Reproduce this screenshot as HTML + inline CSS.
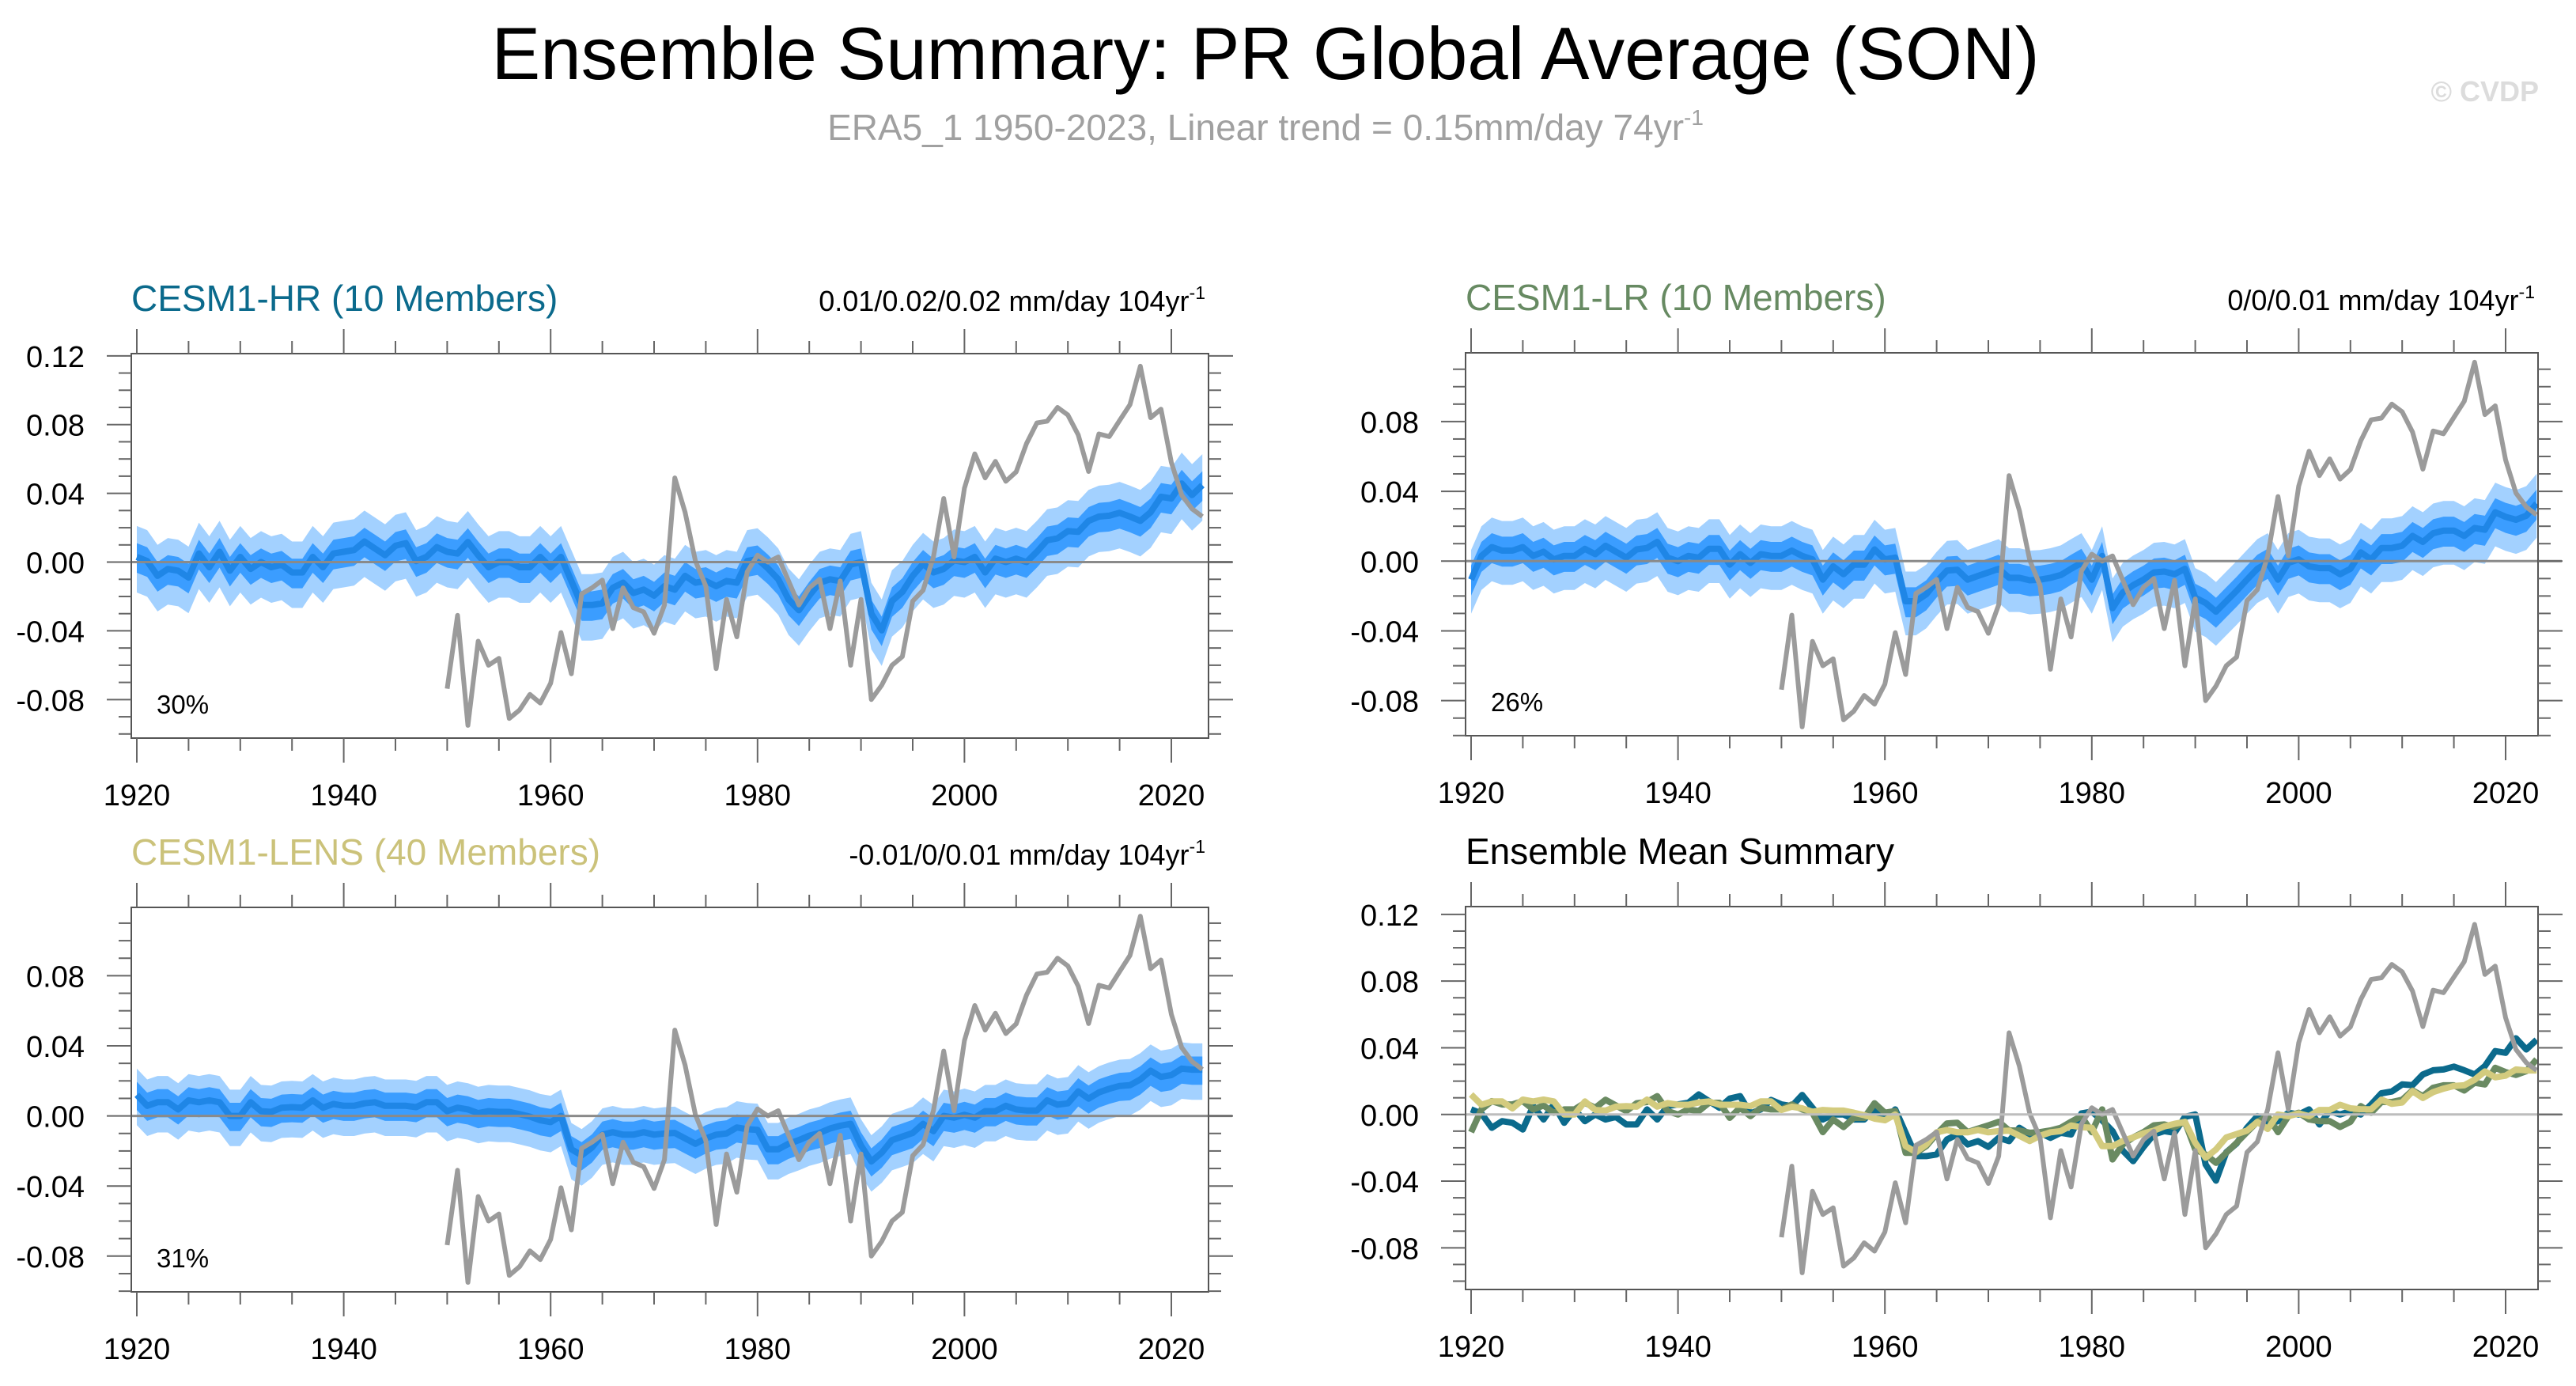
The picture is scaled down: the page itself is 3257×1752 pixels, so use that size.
<!DOCTYPE html>
<html><head><meta charset="utf-8"><title>Ensemble Summary: PR Global Average (SON)</title>
<style>html,body{margin:0;padding:0;background:#fff}svg{display:block}</style></head>
<body>
<svg id="chart" xmlns="http://www.w3.org/2000/svg" width="3257" height="1752" viewBox="0 0 3257 1752" font-family="Liberation Sans, Arial, sans-serif">
<rect width="3257" height="1752" fill="#fff"/>
<text x="1600" y="100" font-size="94" text-anchor="middle" textLength="1957" lengthAdjust="spacingAndGlyphs" fill="#000">Ensemble Summary: PR Global Average (SON)</text>
<text x="1600" y="177" font-size="46" text-anchor="middle" fill="#a0a0a0">ERA5_1 1950-2023, Linear trend = 0.15mm/day 74yr<tspan dy="-19" font-size="28">-1</tspan></text>
<text x="3210" y="128" font-size="36" text-anchor="end" fill="#dcdcdc" font-weight="bold">© CVDP</text>
<g id="panels"></g>
</svg>
<script>
const years = []; for (let y = 1920; y <= 2023; y++) years.push(y);
const eraYears = []; for (let y = 1950; y <= 2023; y++) eraYears.push(y);
const era5 = [-0.0737,-0.031,-0.095,-0.046,-0.060,-0.056,-0.091,-0.086,-0.077,-0.082,-0.0705,-0.041,-0.065,-0.0185,-0.015,-0.0105,-0.0387,-0.015,-0.0265,-0.029,-0.0414,-0.025,0.049,0.029,0.0006,-0.014,-0.062,-0.0217,-0.0435,-0.0057,0.004,0.0,0.003,-0.011,-0.025,-0.015,-0.010,-0.0387,-0.011,-0.060,-0.0217,-0.080,-0.0716,-0.060,-0.055,-0.0227,-0.0164,0.003,0.037,0.003,0.043,0.063,0.049,0.0586,0.047,0.0525,0.069,0.081,0.082,0.090,0.0856,0.074,0.0527,0.0746,0.073,0.0824,0.0916,0.114,0.084,0.089,0.058,0.039,0.031,0.0265];
const hrMean = [0.003,0.0006,-0.008,-0.004,-0.005,-0.009,0.005,-0.003,0.006,-0.005,0.003,-0.004,0,-0.003,-0.0015,-0.006,-0.006,0.003,-0.003,0.005,0.006,0.007,0.012,0.008,0.004,0.0095,0.011,0.0006,0.003,0.0087,0.006,0.005,0.0117,0.004,-0.003,0,0,-0.003,-0.003,0.003,-0.003,0.003,-0.011,-0.025,-0.025,-0.024,-0.015,-0.012,-0.018,-0.016,-0.0195,-0.014,-0.016,-0.008,-0.012,-0.011,-0.014,-0.011,-0.012,0.0006,0.0017,-0.0036,-0.010,-0.0217,-0.028,-0.0195,-0.012,-0.010,-0.011,-0.0015,0,-0.030,-0.0397,-0.0227,-0.0174,-0.008,-0.001,-0.006,-0.004,0.001,0,0.003,-0.006,0.002,0,0.002,0,0.006,0.0127,0.0138,0.018,0.0176,0.024,0.0265,0.027,0.0287,0.0265,0.024,0.029,0.038,0.037,0.0457,0.039,0.0448];
const lrMean = [-0.0106,0.003,0.008,0.006,0.006,0.008,0.003,0.0054,0.001,0.003,0.003,0.007,0.004,0.0088,0.0054,0.002,0.0067,0.0075,0.011,0.002,0,0.003,0.002,0.007,0.007,-0.002,0.004,-0.001,0.004,0.003,0.003,0.006,0.003,0.001,-0.0106,-0.003,-0.0075,-0.002,-0.002,0.0067,0.001,0.002,-0.023,-0.023,-0.019,-0.0117,-0.0054,-0.005,-0.0106,-0.0085,-0.0065,-0.0044,-0.0096,-0.0096,-0.011,-0.0106,-0.0096,-0.008,-0.0044,-0.001,-0.0106,0.003,-0.027,-0.018,-0.0138,-0.0106,-0.0065,-0.006,-0.0075,-0.0044,-0.021,-0.024,-0.029,-0.023,-0.017,-0.0106,-0.0044,-0.001,-0.0106,-0.001,0.001,-0.003,-0.004,-0.004,-0.0075,-0.0044,0.005,0.001,0.0075,0.0075,0.0088,0.0144,0.011,0.016,0.0175,0.0175,0.0144,0.019,0.018,0.028,0.0254,0.0237,0.026,0.033];
const lensMean = [0.012,0.0058,0.0078,0.0078,0.0037,0.0089,0.0078,0.0089,0.0078,0,0,0.0078,0.0027,0.0023,0.0047,0.005,0.0047,0.0089,0.0047,0.0068,0.0058,0.0058,0.0072,0.0078,0.0058,0.0058,0.0058,0.005,0.0078,0.0078,0.0027,0.0047,0.0037,0.0016,0.0027,0.0023,0.0023,0.001,-0.0004,-0.0025,-0.0035,0,-0.019,-0.0225,-0.018,-0.0107,-0.0093,-0.0107,-0.0107,-0.0093,-0.0107,-0.010,-0.0097,-0.0128,-0.0159,-0.0128,-0.0107,-0.010,-0.0066,-0.0076,-0.008,-0.019,-0.019,-0.0159,-0.0138,-0.0113,-0.0097,-0.0072,-0.0056,-0.0045,-0.0169,-0.026,-0.021,-0.0138,-0.0118,-0.0097,-0.0045,-0.0087,0,-0.001,0.0006,-0.001,0.0027,0.0027,0.0058,0.0037,0.0031,0.0031,0.0089,0.0064,0.0072,0.014,0.0099,0.0134,0.0155,0.0171,0.0175,0.0208,0.0258,0.0223,0.0233,0.027,0.0264,0.0264];
const innerSpread = [0.008, 0.008, 0.0075];
const outerSpread = [0.018, 0.017, 0.015];
const pctLabels = ["30%", "26%", "31%"];
const trendLabels = ["0.01/0.02/0.02 mm/day 104yr", "0/0/0.01 mm/day 104yr", "-0.01/0/0.01 mm/day 104yr"];
const panelTitles = ["CESM1-HR (10 Members)", "CESM1-LR (10 Members)", "CESM1-LENS (40 Members)", "Ensemble Mean Summary"];
const xTickLabels = [1920, 1940, 1960, 1980, 2000, 2020];
const yTicksFull = [0.12, 0.08, 0.04, 0.00, -0.04, -0.08];
const yTicksShort = [0.08, 0.04, 0.00, -0.04, -0.08];

const NS = "http://www.w3.org/2000/svg";
function mk(tag, attrs, parent) {
  const e = document.createElementNS(NS, tag);
  for (const k in attrs) e.setAttribute(k, attrs[k]);
  parent.appendChild(e); return e;
}
const root = document.getElementById('panels');
const panels = [
  {L:166,T:447,R:1528,B:933,ymax:0.1213,ymin:-0.1024,titleColor:'#0b6a8c',yt:yTicksFull,mean:hrMean,i:0},
  {L:1853,T:446,R:3209,B:930,ymax:0.1194,ymin:-0.1001,titleColor:'#678a62',yt:yTicksShort,mean:lrMean,i:1},
  {L:166,T:1147,R:1528,B:1633,ymax:0.119,ymin:-0.1004,titleColor:'#cbc27a',yt:yTicksShort,mean:lensMean,i:2},
  {L:1853,T:1146,R:3209,B:1630,ymax:0.1247,ymin:-0.105,titleColor:'#000',yt:yTicksFull,mean:null,i:3}
];
function fmt(v){ return v.toFixed(2); }
panels.forEach(p => {
  const g = mk('g', {}, root);
  
  
  const xs = yr => p.L + 7 + (yr - 1920) * 13.08;
  const ys = v => p.T + (p.ymax - v) / (p.ymax - p.ymin) * (p.B - p.T);
  const t = mk('text', {x:p.L, y:p.T-54, 'font-size':46, fill:p.titleColor}, g);
  t.textContent = panelTitles[p.i];
  
  
  if (p.i < 3) {
    const tr = mk('text', {x:p.R-4, y:p.T-54, 'font-size':36, fill:'#000', 'text-anchor':'end'}, g);
    tr.textContent = trendLabels[p.i];
    const sup = mk('tspan', {dy:-15, 'font-size':23}, tr); sup.textContent = '-1';
    
    
  }
  const clip = mk('clipPath', {id:'clip'+p.i}, g);
  mk('rect', {x:p.L, y:p.T, width:p.R-p.L, height:p.B-p.T}, clip);
  const plot = mk('g', {'clip-path':'url(#clip'+p.i+')'}, g);
  const z = mk('line', {x1:p.L, x2:p.R+30, y1:ys(0), y2:ys(0), stroke:p.i===3?'#bdbdbd':'#8a8a8a', 'stroke-width':3}, g);
  
  
  if (p.mean) {
    const band = (sp, col, name) => {
      let d = '';
      years.forEach((y,k) => { d += (k?'L':'M') + xs(y).toFixed(1) + ',' + ys(p.mean[k]+sp).toFixed(1); });
      for (let k = years.length-1; k >= 0; k--) d += 'L' + xs(years[k]).toFixed(1) + ',' + ys(p.mean[k]-sp*1.15).toFixed(1);
      const b = mk('path', {d:d+'Z', fill:col}, plot);
      
      
    };
    band(outerSpread[p.i], '#a3d1ff', 'outer-spread-band');
    band(innerSpread[p.i], '#3b9dff', 'inner-spread-band');
    const m = mk('polyline', {points: years.map((y,k)=>xs(y).toFixed(1)+','+ys(p.mean[k]).toFixed(1)).join(' '), fill:'none', stroke:'#1f86e6', 'stroke-width':8, 'stroke-linejoin':'round'}, plot);
    
    
  } else {
    [[hrMean,'#0b6a8c','hr-mean-line'],[lrMean,'#6a8a62','lr-mean-line'],[lensMean,'#d3cb7e','lens-mean-line']].forEach(s => {
      const m = mk('polyline', {points: years.map((y,k)=>xs(y).toFixed(1)+','+ys(s[0][k]).toFixed(1)).join(' '), fill:'none', stroke:s[1], 'stroke-width':8, 'stroke-linejoin':'round'}, plot);
      
      
    });
  }
  const e = mk('polyline', {points: eraYears.map((y,k)=>xs(y).toFixed(1)+','+ys(era5[k]).toFixed(1)).join(' '), fill:'none', stroke:'#9b9b9b', 'stroke-width':6, 'stroke-linejoin':'round'}, plot);
  
  
  const fr = mk('rect', {x:p.L, y:p.T, width:p.R-p.L, height:p.B-p.T, fill:'none', stroke:'#555', 'stroke-width':2}, g);
  
  
  for (let y = 1920; y <= 2020; y += 5) {
    const len = y % 20 === 0 ? 31 : 16;
    mk('line', {x1:xs(y), x2:xs(y), y1:p.B, y2:p.B+len, stroke:'#666', 'stroke-width':2}, g);
    mk('line', {x1:xs(y), x2:xs(y), y1:p.T, y2:p.T-len, stroke:'#666', 'stroke-width':2}, g);
  }
  xTickLabels.forEach(y => {
    const tl = mk('text', {x:xs(y), y:p.B+85, 'font-size':38, 'text-anchor':'middle', fill:'#000'}, g);
    tl.textContent = y;
    
    
  });
  for (let v = -0.10; v <= p.ymax + 1e-6; v += 0.01) {
    if (v < p.ymin) continue;
    const major = Math.abs(Math.round(v*100)) % 4 === 0;
    const len = major ? 31 : 16;
    mk('line', {x1:p.L, x2:p.L-len, y1:ys(v), y2:ys(v), stroke:'#666', 'stroke-width':2}, g);
    mk('line', {x1:p.R, x2:p.R+len, y1:ys(v), y2:ys(v), stroke:'#666', 'stroke-width':2}, g);
  }
  p.yt.forEach(v => {
    const tl = mk('text', {x:p.L-59, y:ys(v)+14, 'font-size':38, 'text-anchor':'end', fill:'#000'}, g);
    tl.textContent = fmt(v);
    
    
  });
  if (p.i < 3) {
    const pc = mk('text', {x:p.L+32, y:p.B-31, 'font-size':33, fill:'#000'}, g);
    pc.textContent = pctLabels[p.i];
    
    
  }
});
</script>
</body></html>
